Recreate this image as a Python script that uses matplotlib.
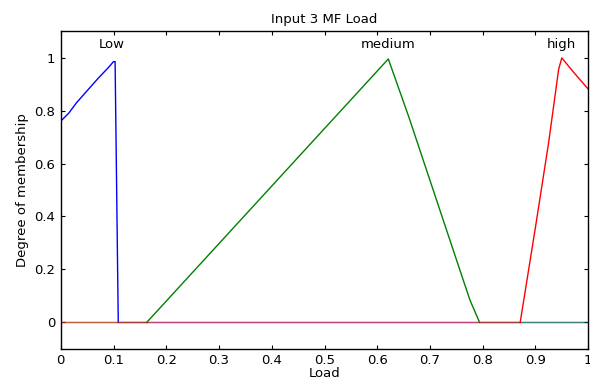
import numpy as np
import matplotlib
matplotlib.use("Agg")
from matplotlib import pyplot as plt

plt.rcParams['font.family'] = ['DejaVu Sans']

# membership functions
low_x = [0, 0.015, 0.03, 0.05, 0.07, 0.09, 0.100, 0.103, 0.109, 1.0]
low_y = [0.76, 0.79, 0.83, 0.875, 0.92, 0.962, 0.985, 0.985, 0, 0]

med_x = [0, 0.163, 0.621, 0.66, 0.763, 0.776, 0.794, 1.0]
med_y = [0, 0, 0.995, 0.775, 0.16, 0.083, 0, 0]

high_x = [0, 0.871, 0.90, 0.925, 0.944, 0.950, 0.97, 1.0]
high_y = [0, 0, 0.36, 0.68, 0.957, 0.999, 0.95, 0.881]

mf_names = ['Low', 'medium', 'high']
mf_peaks = [0.097, 0.62, 0.95]

fig, ax = plt.subplots(figsize=(5.9, 3.8), dpi=100)
fig.subplots_adjust(left=0.103, right=0.997, top=0.918, bottom=0.082)

series = [(low_x, low_y, 'b'), (med_x, med_y, 'g'), (high_x, high_y, 'r')]
for xs, ys, c in series:
    xs = np.array(xs)
    ys = np.array(ys, dtype=float)
    zero = np.isclose(ys, 0)
    nz = ~zero
    up = nz.copy()
    up[1:] |= nz[:-1]
    up[:-1] |= nz[1:]
    # raised part drawn solid
    ax.plot(xs, np.where(up, ys, np.nan), color=c, lw=1.0)
    # flat part at zero: colours blend like in the original
    ax.plot(xs, np.where(zero, ys, np.nan), color=c, lw=1.0, alpha=0.5)

for name, px in zip(mf_names, mf_peaks):
    ax.text(px, 1.05, name, ha='center', va='center', fontsize=9.5)

ax.set_xlim(0, 1)
ax.set_ylim(-0.1, 1.1)
ax.set_xticks(np.arange(0, 1.01, 0.1))
ax.set_xticklabels(['0', '0.1', '0.2', '0.3', '0.4', '0.5', '0.6', '0.7', '0.8', '0.9', '1'])
ax.set_yticks([0, 0.2, 0.4, 0.6, 0.8, 1])
ax.set_yticklabels(['0', '0.2', '0.4', '0.6', '0.8', '1'])
ax.tick_params(direction='in', length=3, width=0.8, labelsize=9.5, top=True, right=True, pad=4)
for s in ax.spines.values():
    s.set_linewidth(1.0)

ax.set_title('Input 3 MF Load', fontsize=9.5, pad=6)
ax.set_xlabel('Load', fontsize=9.5, labelpad=0)
ax.set_ylabel('Degree of membership', fontsize=9.5, labelpad=4)

fig.savefig('out.png', dpi=100)
